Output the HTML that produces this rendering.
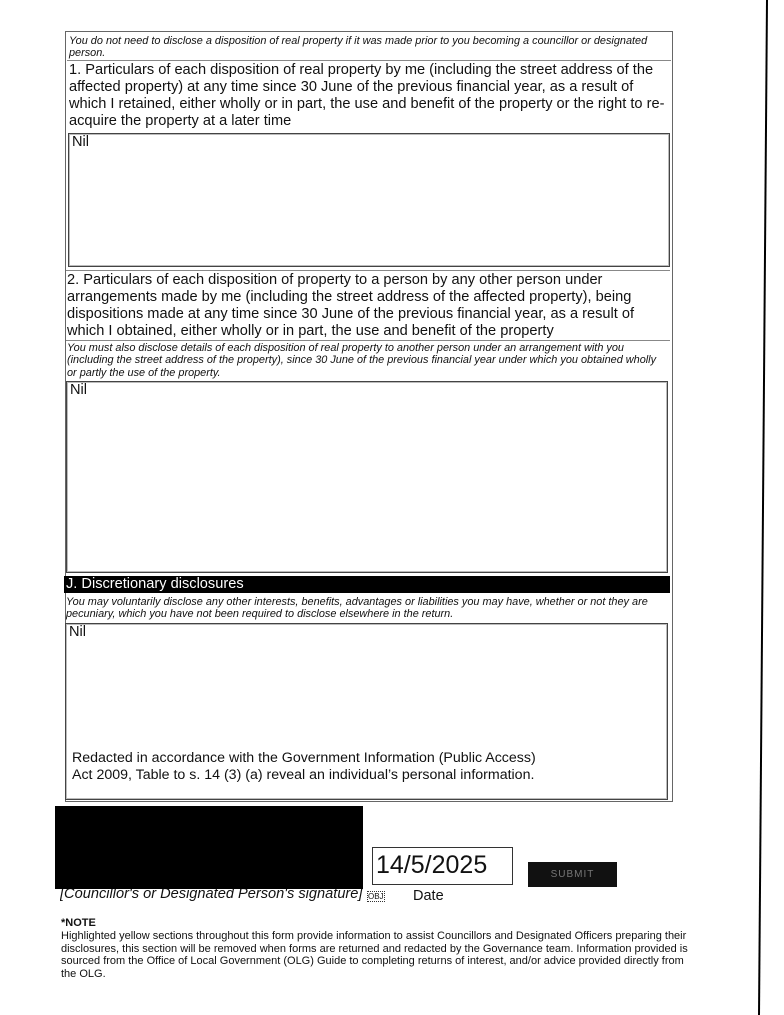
<!DOCTYPE html>
<html><head><meta charset="utf-8"><style>
html,body{margin:0;padding:0;background:#fff;}
body{width:784px;height:1015px;position:relative;overflow:hidden;font-family:"Liberation Sans",Arial,sans-serif;color:#111;}
.a{position:absolute;box-sizing:border-box;}
.it{font-style:italic;font-size:10.9px;line-height:12.3px;white-space:nowrap;}
.tx{font-size:14.6px;line-height:17px;}
.box{border:1px solid #444;box-shadow:inset 0 0 0 1px #bbb;}
</style></head><body>
<div class="a" style="left:65px;top:31px;width:608px;height:771px;border:1px solid #666;"></div>
<div class="a it" style="left:67px;top:33px;width:604px;height:28px;border-bottom:1px solid #888;padding:2px 2px;">You do not need to disclose a disposition of real property if it was made prior to you becoming a councillor or designated<br>person.</div>
<div class="a tx" style="left:67px;top:62px;width:604px;height:70px;padding:0 2px;">1. Particulars of each disposition of real property by me (including the street address of the affected property) at any time since 30 June of the previous financial year, as a result of which I retained, either wholly or in part, the use and benefit of the property or the right to re-acquire the property at a later time</div>
<div class="a box tx" style="left:68px;top:133px;width:602px;height:134px;padding:0 3px;">Nil</div>
<div class="a tx" style="left:66px;top:270px;width:604px;height:70px;border-top:1px solid #888;padding:1px 1px;">2. Particulars of each disposition of property to a person by any other person under arrangements made by me (including the street address of the affected property), being dispositions made at any time since 30 June of the previous financial year, as a result of which I obtained, either wholly or in part, the use and benefit of the property</div>
<div class="a it" style="left:66px;top:340px;width:604px;height:40px;border-top:1px solid #888;padding:1px 1px;">You must also disclose details of each disposition of real property to another person under an arrangement with you<br>(including the street address of the property), since 30 June of the previous financial year under which you obtained wholly<br>or partly the use of the property.</div>
<div class="a box tx" style="left:66px;top:381px;width:602px;height:192px;padding:0 3px;">Nil</div>
<div class="a" style="left:64px;top:576px;width:606px;height:17px;background:#000;color:#fff;font-size:14.6px;line-height:17px;padding-left:2px;">J. Discretionary disclosures</div>
<div class="a it" style="left:65px;top:594px;width:604px;height:29px;padding:2px 1px;">You may voluntarily disclose any other interests, benefits, advantages or liabilities you may have, whether or not they are<br>pecuniary, which you have not been required to disclose elsewhere in the return.</div>
<div class="a box tx" style="left:65px;top:623px;width:603px;height:177px;padding:0 3px;">Nil</div>
<div class="a" style="left:72px;top:750px;width:600px;font-size:14.2px;line-height:17px;white-space:nowrap;">Redacted in accordance with the Government Information (Public Access)<br>Act 2009, Table to s. 14 (3) (a) reveal an individual’s personal information.</div>
<div class="a" style="left:55px;top:806px;width:308px;height:83px;background:#000;"></div>
<div class="a" style="left:372px;top:847px;width:141px;height:38px;border:1px solid #333;font-size:25px;line-height:34px;padding-left:3px;">14/5/2025</div>
<div class="a" style="left:528px;top:862px;width:89px;height:25px;background:#111;color:#777;font-size:10px;line-height:25px;text-align:center;letter-spacing:1px;">SUBMIT</div>
<div class="a" style="left:60px;top:889px;width:305px;height:16px;overflow:hidden;font-style:italic;font-size:14.6px;line-height:16px;white-space:nowrap;"><span style="position:relative;top:-3px;">[Councillor's or Designated Person's signature]</span></div>
<div class="a" style="left:367px;top:891px;font-size:8px;border:1px dotted #333;line-height:9px;">OBJ</div>
<div class="a" style="left:413px;top:888px;font-size:14.5px;">Date</div>
<div class="a" style="left:61px;top:917px;font-size:11px;font-weight:bold;">*NOTE</div>
<div class="a" style="left:61px;top:930px;width:700px;font-size:11px;line-height:12.5px;white-space:nowrap;">Highlighted yellow sections throughout this form provide information to assist Councillors and Designated Officers preparing their<br>disclosures, this section will be removed when forms are returned and redacted by the Governance team. Information provided is<br>sourced from the Office of Local Government (OLG) Guide to completing returns of interest, and/or advice provided directly from<br>the OLG.</div>
<svg class="a" style="left:0;top:0" width="784" height="1015"><line x1="767" y1="0" x2="759" y2="1015" stroke="#000" stroke-width="2"/></svg>
</body></html>
